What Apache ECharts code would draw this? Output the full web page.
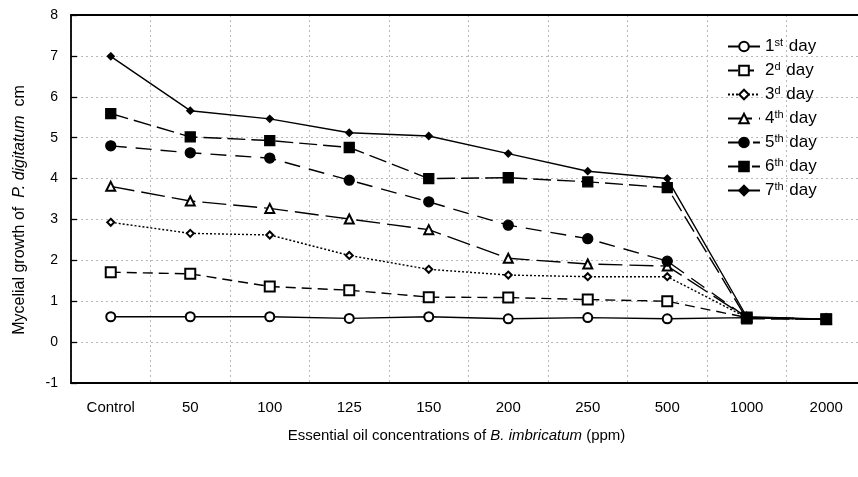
<!DOCTYPE html>
<html lang="en">
<head>
    <meta charset="UTF-8">
    <title>Mycelial growth</title>
    <script type="text/javascript" src="https://cdn.jsdelivr.net/npm/echarts@6/dist/echarts.min.js"></script>
    <style>
        html, body { margin: 0; padding: 0; background: #fff; }
        #chart { width: 858px; height: 477px; }
    </style>
</head>
<body>
<div id="chart"></div>
<script type="text/javascript">
    var categories = ['Control', '50', '100', '125', '150', '200', '250', '500', '1000', '2000'];
    var yTicks = [-1, 0, 1, 2, 3, 4, 5, 6, 7, 8];

    var day1 = [0.62, 0.62, 0.62, 0.58, 0.62, 0.57, 0.60, 0.57, 0.60, 0.56];
    var day2 = [1.71, 1.67, 1.36, 1.27, 1.10, 1.09, 1.04, 1.00, 0.60, 0.56];
    var day3 = [2.93, 2.66, 2.62, 2.12, 1.78, 1.64, 1.60, 1.60, 0.60, 0.56];
    var day4 = [3.81, 3.45, 3.27, 3.01, 2.75, 2.05, 1.91, 1.86, 0.60, 0.56];
    var day5 = [4.80, 4.63, 4.50, 3.96, 3.43, 2.86, 2.53, 1.98, 0.60, 0.56];
    var day6 = [5.59, 5.02, 4.93, 4.76, 4.00, 4.02, 3.92, 3.78, 0.57, 0.56];
    var day7 = [6.99, 5.66, 5.46, 5.12, 5.04, 4.61, 4.18, 4.00, 0.62, 0.56];

    var legendNames = ['1st day', '2d day', '3d day', '4th day', '5th day', '6th day', '7th day'];
    var legendRich = {
        '1st day': '1{sup|st} day',
        '2d day': '2{sup|d} day',
        '3d day': '3{sup|d} day',
        '4th day': '4{sup|th} day',
        '5th day': '5{sup|th} day',
        '6th day': '6{sup|th} day',
        '7th day': '7{sup|th} day'
    };

    var fontFamily = '"Liberation Sans", Arial, sans-serif';

    function makeSeries(name, data, symbol, size, dash) {
        return {
            name: name,
            type: 'line',
            data: data,
            symbol: symbol,
            symbolSize: size,
            showAllSymbol: true,
            lineStyle: { color: '#000', width: 1.4, type: dash },
            itemStyle: { color: '#000', borderColor: '#000', borderWidth: 1.3 },
            animation: false
        };
    }

    var chart = echarts.init(document.getElementById('chart'));
    var option = {
        backgroundColor: '#fff',
        textStyle: { fontFamily: fontFamily },
        grid: { left: 71, top: 15, right: -8, bottom: 94, outerBoundsMode: 'none', containLabel: false },
        legend: {
            orient: 'vertical',
            left: 722,
            top: 32,
            itemWidth: 32,
            itemHeight: 12,
            itemGap: 6,
            data: legendNames,
            formatter: function (name) { return legendRich[name]; },
            textStyle: {
                fontFamily: fontFamily,
                fontSize: 17,
                color: '#000',
                rich: {
                    sup: { fontSize: 11, verticalAlign: 'top', padding: [0, 1, 8, 0], fontFamily: fontFamily, color: '#000' }
                }
            }
        },
        xAxis: [{
            type: 'category',
            data: categories,
            boundaryGap: true,
            position: 'bottom',
            axisLine: { onZero: false, lineStyle: { color: '#000', width: 1.8 } },
            axisTick: { inside: true, alignWithLabel: true, length: 5, lineStyle: { color: '#000', width: 1.3 } },
            axisLabel: { color: '#000', fontSize: 15, margin: 17, fontFamily: fontFamily },
            splitLine: { show: true, lineStyle: { color: '#b8b8b8', type: [2, 3], width: 1 } },
            name: 'Essential oil concentrations of {i|B. imbricatum} (ppm)',
            nameLocation: 'middle',
            nameGap: 45,
            nameTextStyle: {
                color: '#000', fontSize: 15, fontFamily: fontFamily, padding: [0, 24, 0, 0],
                rich: { i: { fontStyle: 'italic', fontSize: 15, fontFamily: fontFamily, color: '#000' } }
            }
        }, {
            type: 'category',
            data: categories,
            boundaryGap: true,
            position: 'top',
            axisLine: { onZero: false, lineStyle: { color: '#000', width: 1.8 } },
            axisTick: { inside: true, alignWithLabel: true, length: 5, lineStyle: { color: '#000', width: 1.3 } },
            axisLabel: { show: false },
            splitLine: { show: false }
        }],
        yAxis: {
            type: 'value',
            min: yTicks[0],
            max: yTicks[yTicks.length - 1],
            interval: 1,
            axisLine: { show: true, onZero: false, lineStyle: { color: '#000', width: 1.8 } },
            axisTick: { show: true, inside: true, length: 6, lineStyle: { color: '#000', width: 1.3 } },
            axisLabel: { color: '#000', fontSize: 14, margin: 13, fontFamily: fontFamily },
            splitLine: { show: true, lineStyle: { color: '#b8b8b8', type: [2, 3], width: 1 } },
            name: 'Mycelial growth of  {i|P. digitatum}  cm',
            nameLocation: 'middle',
            nameGap: 43,
            nameTextStyle: {
                color: '#000', fontSize: 16, fontFamily: fontFamily, padding: [0, 22, 0, 0],
                rich: { i: { fontStyle: 'italic', fontSize: 16, fontFamily: fontFamily, color: '#000' } }
            }
        },
        series: [
            makeSeries('1st day', day1, 'emptyCircle', 9, 'solid'),
            makeSeries('2d day', day2, 'emptyRect', 10, [10, 6]),
            makeSeries('3d day', day3, 'emptyDiamond', 7, [2, 2]),
            makeSeries('4th day', day4, 'emptyTriangle', 9, [24, 7]),
            makeSeries('5th day', day5, 'circle', 10, [16, 9]),
            makeSeries('6th day', day6, 'rect', 10, [18, 6]),
            makeSeries('7th day', day7, 'diamond', 7, 'solid')
        ]
    };
    chart.setOption(option);
</script>
</body>
</html>
